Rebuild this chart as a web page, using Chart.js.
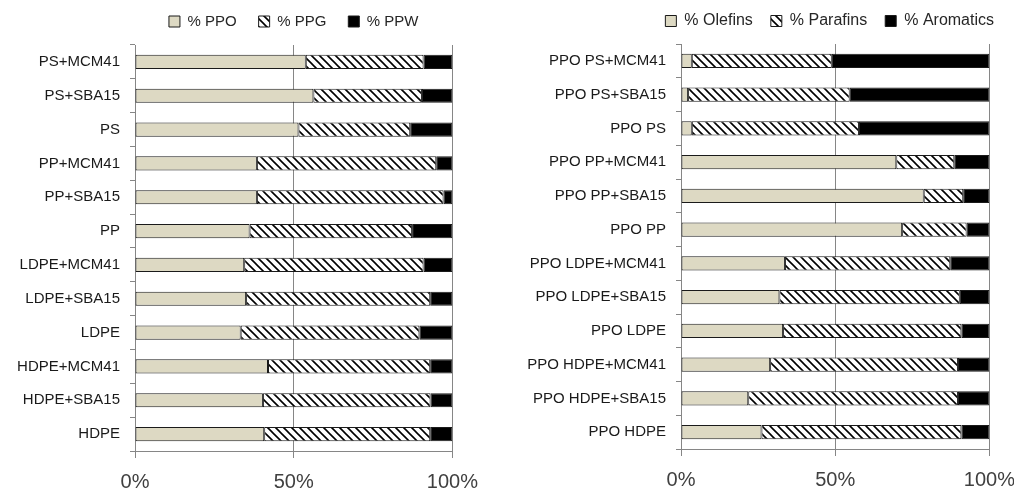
<!DOCTYPE html>
<html lang="en">

<head>
    <meta charset="UTF-8">
    <title>PPO / PPG / PPW</title>
    <script src="https://cdn.jsdelivr.net/npm/chart.js"></script>
    <style>
        body { margin: 0; background: #fff; width: 1014px; height: 492px; overflow: hidden; position: relative; }
        .painel { position: absolute; }
        #painel-esq { left: 0; top: -8px; width: 490px; height: 500px; }
        #painel-dir { left: 507px; top: -5px; width: 520px; height: 497px; }
    </style>
</head>

<body>
    <div class="painel" id="painel-esq"><canvas id="grafico-esq"></canvas></div>
    <div class="painel" id="painel-dir"><canvas id="grafico-dir"></canvas></div>
</body>

</html>

<script>

    // dados do grafico da esquerda
    const amostras = ['PS+MCM41', 'PS+SBA15', 'PS', 'PP+MCM41', 'PP+SBA15', 'PP',
        'LDPE+MCM41', 'LDPE+SBA15', 'LDPE', 'HDPE+MCM41', 'HDPE+SBA15', 'HDPE'];
    const ppo = [53.8, 56.2, 51.5, 38.4, 38.4, 36.1, 34.4, 35.0, 33.3, 41.9, 40.3, 40.7];
    const ppg = [37.1, 34.2, 35.2, 56.5, 58.8, 51.2, 56.5, 58.0, 56.3, 51.1, 52.8, 52.3];
    const ppw = [9.1, 9.6, 13.3, 5.1, 2.8, 12.7, 9.1, 7.0, 10.4, 7.0, 6.9, 7.0];

    // dados do grafico da direita
    const amostrasPPO = ['PPO PS+MCM41', 'PPO PS+SBA15', 'PPO PS', 'PPO PP+MCM41', 'PPO PP+SBA15', 'PPO PP',
        'PPO LDPE+MCM41', 'PPO LDPE+SBA15', 'PPO LDPE', 'PPO HDPE+MCM41', 'PPO HDPE+SBA15', 'PPO HDPE'];
    const olefinas = [3.5, 2.3, 3.5, 69.8, 78.7, 71.7, 33.7, 31.9, 33.1, 28.9, 21.8, 26.1];
    const parafinas = [45.4, 52.4, 54.2, 18.8, 12.8, 20.9, 53.6, 58.5, 57.8, 60.9, 68.0, 64.8];
    const aromaticos = [51.1, 45.3, 42.3, 11.4, 8.5, 7.4, 12.7, 9.6, 9.1, 10.2, 10.2, 9.1];

    const ticksX = [0, 50, 100];

    const fonte = "'Liberation Sans', Arial, sans-serif";

    // padrao listrado (\\\) para a serie do meio
    function criaHachura() {
        const c = document.createElement('canvas');
        c.width = 8;
        c.height = 8;
        const g = c.getContext('2d');
        g.fillStyle = '#fff';
        g.fillRect(0, 0, 8, 8);
        g.strokeStyle = '#000';
        g.lineWidth = 1.6;
        g.beginPath();
        g.moveTo(-1, -1); g.lineTo(9, 9);
        g.moveTo(-1, 7); g.lineTo(1, 9);
        g.moveTo(7, -1); g.lineTo(9, 1);
        g.stroke();
        return g.createPattern(c, 'repeat');
    }

    const hachura = criaHachura();

    function montaGrafico(id, labels, nomes, series, larguraEixo, cfg) {
        const cores = ['#ddd9c3', hachura, '#000'];

        const datasets = series.map((s, i) => ({
            label: nomes[i],
            data: s,
            backgroundColor: cores[i],
            borderColor: '#1a1a1a',
            borderWidth: 1,
            borderSkipped: false,
            barPercentage: 0.42,
            categoryPercentage: 1
        }));

        new Chart(document.getElementById(id), {
            type: 'bar',
            data: { labels: labels, datasets: datasets },
            options: {
                indexAxis: 'y',
                responsive: true,
                maintainAspectRatio: false,
                animation: false,
                layout: { padding: { left: 0, right: cfg.margemDir, top: 0, bottom: 0 } },
                plugins: {
                    tooltip: { enabled: false },
                    legend: {
                        position: 'top',
                        fullSize: cfg.cheia,
                        align: cfg.alinhamento,
                        labels: {
                            boxWidth: 11,
                            boxHeight: 11,
                            padding: cfg.espaco,
                            color: '#262626',
                            font: { family: fonte, size: cfg.fonteLegenda }
                        }
                    }
                },
                scales: {
                    x: {
                        stacked: true,
                        min: 0,
                        max: 100,
                        afterBuildTicks: (eixo) => { eixo.ticks = ticksX.map(v => ({ value: v })); },
                        afterFit: (eixo) => { eixo.height = cfg.alturaX; },
                        grid: { color: '#868686', lineWidth: 1, tickLength: 7 },
                        border: { color: '#868686' },
                        ticks: {
                            padding: 12,
                            color: '#404040',
                            font: { family: fonte, size: 20 },
                            callback: v => v + '%'
                        }
                    },
                    // so para dar espaco entre a legenda e as barras
                    espaco: {
                        axis: 'x',
                        type: 'linear',
                        position: 'top',
                        grid: { display: false },
                        border: { display: false },
                        ticks: { display: false },
                        afterFit: (eixo) => { eixo.height = cfg.espacoTopo; }
                    },
                    y: {
                        stacked: true,
                        afterFit: (eixo) => { eixo.width = larguraEixo; },
                        grid: { offset: true, drawOnChartArea: false, color: '#868686', tickLength: 5 },
                        border: { color: '#868686' },
                        ticks: {
                            padding: 10,
                            color: '#1a1a1a',
                            font: { family: fonte, size: 15 }
                        }
                    }
                }
            }
        });
    }

    montaGrafico('grafico-esq', amostras, ['% PPO', '% PPG', '% PPW'], [ppo, ppg, ppw], 135,
        { cheia: false, alinhamento: 'center', espaco: 22, margemDir: 0, fonteLegenda: 15, espacoTopo: 6, alturaX: 41 });
    montaGrafico('grafico-dir', amostrasPPO, ['% Olefins', '% Parafins', '% Aromatics'],
        [olefinas, parafinas, aromaticos], 174,
        { cheia: true, alinhamento: 'end', espaco: 18, margemDir: 15, fonteLegenda: 16, espacoTopo: 5, alturaX: 43 });

</script>
